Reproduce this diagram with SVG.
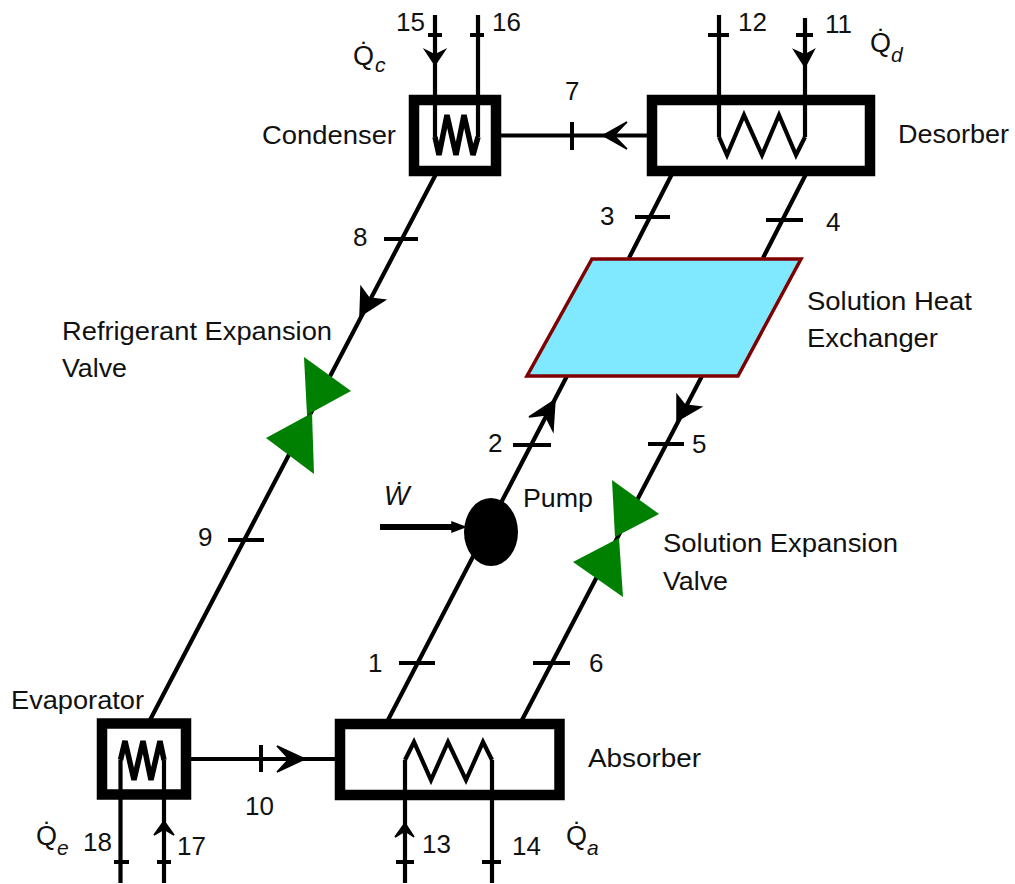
<svg xmlns="http://www.w3.org/2000/svg" width="1015" height="884" viewBox="0 0 1015 884">
<style>
text{font-family:"Liberation Sans",Arial,sans-serif;font-size:26px;fill:#111}
.box{fill:#fff;stroke:#000;stroke-width:10.5}
.line{fill:none;stroke:#000;stroke-width:4.2}
.tick{fill:none;stroke:#000;stroke-width:4}
.coil{fill:none;stroke:#000;stroke-width:4.2;stroke-linejoin:miter}
.coil.small{stroke-width:5.500}
.head{fill:#000;stroke:#000;stroke-width:1.500;stroke-linejoin:miter}
.valve{fill:#008000;stroke:none}
.q{font-size:27px}
.sub{font-style:italic;font-size:21px}
</style>
<rect width="1015" height="884" fill="#fff"/>
<g id="connectors">
<path class="line" d="M435 15V105M478 15V105M719 15V105M805 18V105M120.500 795V883M164 795V883M405 795V883M492 795V883"/>
<path class="line" d="M500 135.500H652M186 759H340"/>
<path class="line" d="M436 174L150 720M672 174L629 258M806 174L763 258M567 376L388 720M702 376L522 720"/>
<path class="line" d="M380 527H455" style="stroke-width:6"/>
<path class="tick" d="M428 35H442M470 35H484M708 35H729M796 35H813M114 862H129M157 862H171M396 862H414M482 862H501M572 122V150M261 745V772M384 239H418M635 217H670M766 220H803M513 445H551M648 444H684M228 540H264M399 663H435M533 663H570"/>
<polygon class="head" points="435,65 425,50 435,55 445,50"/>
<polygon class="head" points="805,67 794,50 805,55 814,50"/>
<polygon class="head" points="405,823 395,837 405,831 414,837"/>
<polygon class="head" points="164,821 154,835 164,829 174,835"/>
<polygon class="head" points="603,135.500 627,122 614,135.500 627,149"/>
<polygon class="head" points="305,759 277,746 289,759 277,772"/>
<polygon class="head" points="360,316 361,287 369,298 385,300"/>
<polygon class="head" points="555,400 529,417 545,415 553,431"/>
<polygon class="head" points="677,421 677,395 685,405 701,407"/>
<polygon class="head" points="465,527 452,522 452,532"/>
</g>
<g id="condenser">
<rect class="box" x="414" y="100" width="82" height="71"/>
<path class="line" d="M435 100V137M478 100V137"/>
<path class="coil small" d="M435 137L439 155L447 115L456 155L464 115L473 155L478 137"/>
<text x="262" y="144" textLength="134" lengthAdjust="spacingAndGlyphs">Condenser</text>
</g>
<g id="desorber">
<rect class="box" x="652" y="100" width="218" height="71"/>
<path class="line" d="M719 100V137M805 100V137"/>
<path class="coil" d="M719 137L727 155L744 115L762 155L779 115L796 155L805 137"/>
<text x="898" y="143" textLength="111" lengthAdjust="spacingAndGlyphs">Desorber</text>
</g>
<g id="evaporator">
<rect class="box" x="102" y="723.500" width="84" height="71"/>
<path class="line" d="M120.500 760V795M164 760V795"/>
<path class="coil small" d="M120.500 760L125 741L134 780L143 741L151 780L160 741L164 760"/>
<text x="11" y="709" textLength="133" lengthAdjust="spacingAndGlyphs">Evaporator</text>
</g>
<g id="absorber">
<rect class="box" x="340" y="724" width="219.500" height="71"/>
<path class="line" d="M405 760V795M492 760V795"/>
<path class="coil" d="M405 760L414 742L431 780L448 742L466 780L483 742L492 760"/>
<text x="588" y="767" textLength="113" lengthAdjust="spacingAndGlyphs">Absorber</text>
</g>
<g id="heat-exchanger">
<polygon points="592,259 801,259 738,376 527,376" fill="#80e8ff" stroke="#800000" stroke-width="3.500"/>
<text x="807" y="310" textLength="165" lengthAdjust="spacingAndGlyphs">Solution Heat</text>
<text x="807" y="347" textLength="131" lengthAdjust="spacingAndGlyphs">Exchanger</text>
</g>
<g id="refrigerant-valve">
<polygon class="valve" points="304,357 351,391 307,415"/>
<polygon class="valve" points="266,438 312,413 314,474"/>
<text x="62" y="340" textLength="270" lengthAdjust="spacingAndGlyphs">Refrigerant Expansion</text>
<text x="62" y="377" textLength="65" lengthAdjust="spacingAndGlyphs">Valve</text>
</g>
<g id="solution-valve">
<polygon class="valve" points="612,480 659,514 615,537"/>
<polygon class="valve" points="573,562 619,538 623,597"/>
<text x="663" y="552" textLength="235" lengthAdjust="spacingAndGlyphs">Solution Expansion</text>
<text x="663" y="590" textLength="65" lengthAdjust="spacingAndGlyphs">Valve</text>
</g>
<g id="pump">
<ellipse cx="491" cy="532" rx="27" ry="34" fill="#000"/>
<text x="523" y="507" textLength="70" lengthAdjust="spacingAndGlyphs">Pump</text>
</g>
<g id="labels">
<text x="396" y="31">15</text><text x="492" y="31">16</text><text x="565" y="100">7</text>
<text x="738" y="31">12</text><text x="825" y="33">11</text>
<text x="600" y="225">3</text><text x="826" y="231">4</text><text x="353" y="246">8</text>
<text x="488" y="452">2</text><text x="692" y="453">5</text><text x="198" y="546">9</text>
<text x="368" y="672">1</text><text x="589" y="672">6</text><text x="245" y="815">10</text>
<text x="83" y="851">18</text><text x="177" y="855">17</text><text x="422" y="853">13</text><text x="512" y="855">14</text>
<text class="q" x="353" y="65">Q̇<tspan class="sub" dx="1" dy="7">c</tspan></text>
<text class="q" x="870" y="52">Q̇<tspan class="sub" dx="0" dy="10">d</tspan></text>
<text class="q" x="36" y="845">Q̇<tspan class="sub" dx="0" dy="10">e</tspan></text>
<text class="q" x="566" y="845">Q̇<tspan class="sub" dx="0" dy="10">a</tspan></text>
<text class="q" x="384" y="505" font-style="italic">Ẇ</text>
</g>
</svg>
